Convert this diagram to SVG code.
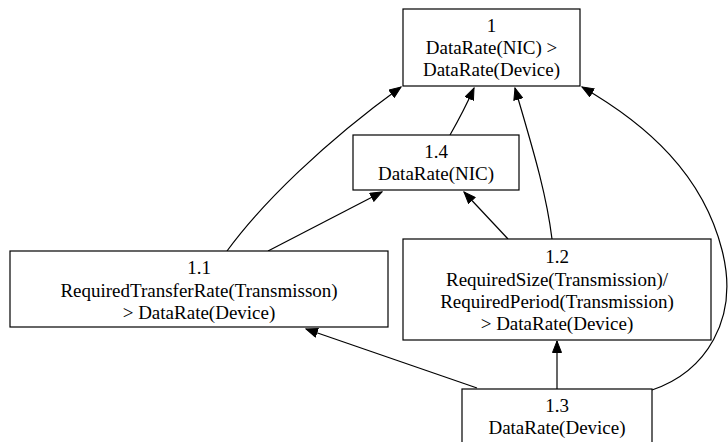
<svg xmlns="http://www.w3.org/2000/svg" width="728" height="442" viewBox="0 0 728 442">
<style>
.node rect{fill:#fff;stroke:#000;stroke-width:1.2}
.node text{font-family:"Liberation Serif","DejaVu Serif",serif;font-size:19px;text-anchor:middle;fill:#000}
.edges path{fill:none;stroke:#000;stroke-width:1.2;marker-end:url(#arr)}
</style>
<defs>
<marker id="arr" markerUnits="userSpaceOnUse" markerWidth="13" markerHeight="10" refX="12" refY="5" orient="auto" viewBox="0 0 13 10">
<path d="M0.5,0.5 L12,5 L0.5,9.5 z" fill="#000" stroke="#000" stroke-width="1"/>
</marker>
</defs>
<rect width="728" height="442" fill="#fff"/>
<g class="edges" id="edges">
<path d="M227,251 C262,203 325,142 401,87"/>
<path d="M268,251 L382,192"/>
<path d="M450,135 C458,121 466,106 474,88"/>
<path d="M552,239 C546,190 530,140 515,88"/>
<path d="M508,239 L464,192"/>
<path d="M477,388 L306,329"/>
<path d="M557,389 L557,341"/>
<path d="M652,390 C705,372 740,320 722,250 C703,175 648,125 582,87"/>
</g>
<g class="node" id="n1" font-family="Liberation Serif, serif">
<rect x="403" y="9" width="177" height="77"/>
<text x="491.5" y="32">1</text>
<text x="491.5" y="54">DataRate(NIC) &gt;</text>
<text x="491.5" y="76">DataRate(Device)</text>
</g>
<g class="node" id="n1_4" font-family="Liberation Serif, serif">
<rect x="353" y="135" width="166" height="55"/>
<text x="436" y="158">1.4</text>
<text x="436" y="180">DataRate(NIC)</text>
</g>
<g class="node" id="n1_1" font-family="Liberation Serif, serif">
<rect x="10" y="251" width="378" height="76"/>
<text x="199" y="274">1.1</text>
<text x="199" y="297">RequiredTransferRate(Transmisson)</text>
<text x="199" y="319">&gt; DataRate(Device)</text>
</g>
<g class="node" id="n1_2" font-family="Liberation Serif, serif">
<rect x="403" y="239" width="308" height="101"/>
<text x="557" y="263">1.2</text>
<text x="557" y="286">RequiredSize(Transmission)/</text>
<text x="557" y="308">RequiredPeriod(Transmission)</text>
<text x="557" y="330">&gt; DataRate(Device)</text>
</g>
<g class="node" id="n1_3" font-family="Liberation Serif, serif">
<rect x="462" y="389" width="190" height="58"/>
<text x="557" y="412">1.3</text>
<text x="557" y="434">DataRate(Device)</text>
</g>
</svg>
